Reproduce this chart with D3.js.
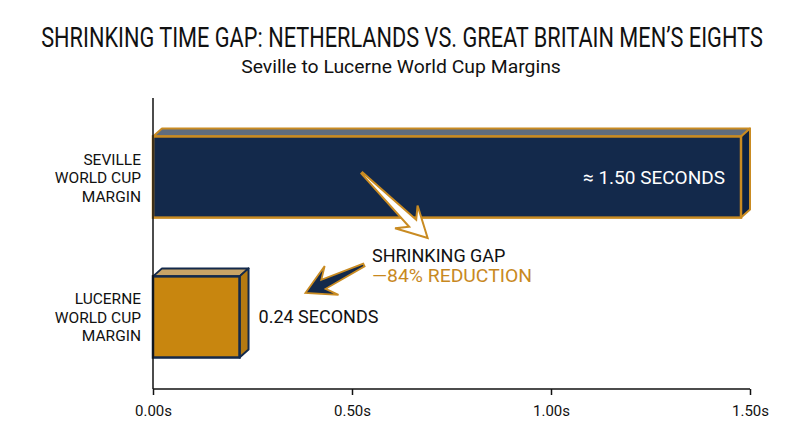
<!DOCTYPE html>
<html>
<head>
<meta charset="utf-8">
<script src="https://cdn.jsdelivr.net/npm/d3@7"></script>
<style>
  html, body { margin: 0; padding: 0; background: #ffffff; }
  svg { display: block; }
  text { font-family: Roboto, "Noto Sans", "DejaVu Sans", sans-serif; }
</style>
</head>
<body>
<svg id="chart" width="800" height="447"></svg>
<script>
// ---- data ----
const categories = ["SEVILLE WORLD CUP MARGIN", "LUCERNE WORLD CUP MARGIN"];
const categoryLines = [["SEVILLE", "WORLD CUP", "MARGIN"], ["LUCERNE", "WORLD CUP", "MARGIN"]];
const margins = [1.50, 0.24];
const valueLabels = ["≈ 1.50 SECONDS", "0.24 SECONDS"];
const tickValues = [0, 0.5, 1.0, 1.5];
const tickLabels = ["0.00s", "0.50s", "1.00s", "1.50s"];
const titleText = "SHRINKING TIME GAP: NETHERLANDS VS. GREAT BRITAIN MEN\u2019S EIGHTS";
const subtitleText = "Seville to Lucerne World Cup Margins";
const annotationLines = ["SHRINKING GAP", "\u201484% REDUCTION"];

// ---- style ----
const NAVY = "#13294b", GOLD = "#c8860f", GOLD_LINE = "#c98b22";
const svg = d3.select("#chart");

const x = d3.scaleLinear().domain([0, 1.5]).range([153, 750]);
const y = d3.scaleBand().domain(categories).range([98, 389])
  .paddingInner(0.42).paddingOuter(0.25).align(0.55);

const dx = 9, dy = 8;

// fitted text: scale horizontally to a target width
function fittedText(cx, cy, str, size, weight, width) {
  const g = svg.append("g").attr("transform", `translate(${cx},${cy})`);
  const t = g.append("text").attr("text-anchor", "middle").attr("font-size", size)
    .attr("font-weight", weight).attr("fill", "#111").text(str);
  const w = t.node().getComputedTextLength();
  t.attr("transform", `scale(${width / w},1)`);
  return t;
}
fittedText(402, 47, titleText, 27, 400, 722);
fittedText(401, 73, subtitleText, 18, 400, 320);

// bars
const styles = [
  { front: NAVY, top: "#5f6c7e", side: "#0e2242", stroke: GOLD_LINE },
  { front: GOLD, top: "#c9a466", side: "#b57a12", stroke: NAVY }
];

categories.forEach((c, i) => {
  const x0 = x(0), x1 = x(margins[i]) - dx;
  const y0 = y(c), y1 = y(c) + y.bandwidth();
  const s = styles[i];
  const g = svg.append("g");
  g.append("path").attr("d", `M${x0},${y0} L${x0 + dx},${y0 - dy} L${x1 + dx},${y0 - dy} L${x1},${y0} Z`)
    .attr("fill", s.top).attr("stroke", s.stroke).attr("stroke-width", 2).attr("stroke-linejoin", "round");
  g.append("path").attr("d", `M${x1},${y0} L${x1 + dx},${y0 - dy} L${x1 + dx},${y1 - dy} L${x1},${y1} Z`)
    .attr("fill", s.side).attr("stroke", s.stroke).attr("stroke-width", 2).attr("stroke-linejoin", "round");
  g.append("rect").attr("x", x0).attr("y", y0).attr("width", x1 - x0).attr("height", y1 - y0)
    .attr("fill", s.front).attr("stroke", s.stroke).attr("stroke-width", 2.5);
});

// axes
const xAxis = d3.axisBottom(x).tickValues(tickValues).tickSize(6)
  .tickFormat((d, i) => tickLabels[i]);
const gx = svg.append("g").attr("transform", "translate(0,389)").call(xAxis);
gx.select(".domain").attr("stroke", "#111").attr("stroke-width", 1.5).attr("d", `M${x(0)},0H${x(1.5)}`);
gx.selectAll(".tick line").attr("stroke", "#111").attr("stroke-width", 1.5);
gx.selectAll(".tick text").attr("font-size", 15).attr("fill", "#111").attr("dy", "1.2em")
  .style("font-family", "Roboto, sans-serif");

svg.append("line").attr("x1", x(0)).attr("x2", x(0)).attr("y1", 98).attr("y2", 389)
  .attr("stroke", "#111").attr("stroke-width", 1.5);

// category labels
categories.forEach((c, i) => {
  const cy = y(c) + y.bandwidth() / 2;
  categoryLines[i].forEach((ln, j) => {
    svg.append("text").attr("text-anchor", "end").attr("font-size", 15.5).attr("fill", "#111")
      .attr("x", 141).attr("y", cy - 12.5 + (j * 18.5)).text(ln);
  });
});

// value labels
svg.append("text").attr("x", x(margins[0]) - 25).attr("y", y(categories[0]) + y.bandwidth() / 2 + 7)
  .attr("text-anchor", "end").attr("font-size", 19).attr("fill", "#fff").text(valueLabels[0]);
svg.append("text").attr("x", x(margins[1]) + 10).attr("y", y(categories[1]) + y.bandwidth() / 2 + 6)
  .attr("text-anchor", "start").attr("font-size", 18).attr("fill", "#111").text(valueLabels[1]);

// annotation arrows
function arrow(T, P, headLen, headHalf, joinLen, joinHalf, tailHalf) {
  const vx = P[0] - T[0], vy = P[1] - T[1];
  const L = Math.hypot(vx, vy), ux = vx / L, uy = vy / L, px = -uy, py = ux;
  const pt = (d, w) => [P[0] - ux * d + px * w, P[1] - uy * d + py * w];
  const pts = [
    [T[0] + px * tailHalf, T[1] + py * tailHalf],
    pt(joinLen, joinHalf), pt(headLen, headHalf), P,
    pt(headLen, -headHalf), pt(joinLen, -joinHalf),
    [T[0] - px * tailHalf, T[1] - py * tailHalf]
  ];
  return "M" + pts.map(p => p.join(",")).join("L") + "Z";
}
const bandMid0 = y(categories[0]) + y.bandwidth() / 2;
const bandMid1 = y(categories[1]) + y.bandwidth() / 2;
svg.append("path")
  .attr("d", arrow([x(0.525), bandMid0 - 4], [x(0.69), bandMid0 + 61], 30, 16, 21, 5, 0.8))
  .attr("fill", "#fff").attr("stroke", GOLD_LINE).attr("stroke-width", 2).attr("stroke-linejoin", "miter");
svg.append("path")
  .attr("d", arrow([x(0.53), bandMid1 - 52], [x(0.383), bandMid1 - 24], 29, 16, 20, 5, 1.5))
  .attr("fill", NAVY).attr("stroke", GOLD_LINE).attr("stroke-width", 1.8).attr("stroke-linejoin", "miter");

// annotation text
svg.append("text").attr("x", 372).attr("y", 262).attr("font-size", 18).attr("fill", "#111").text(annotationLines[0]);
svg.append("text").attr("x", 372).attr("y", 282).attr("font-size", 18).attr("fill", "#c8891f")
  .attr("textLength", 160).attr("lengthAdjust", "spacingAndGlyphs").text(annotationLines[1]);
</script>
</body>
</html>
